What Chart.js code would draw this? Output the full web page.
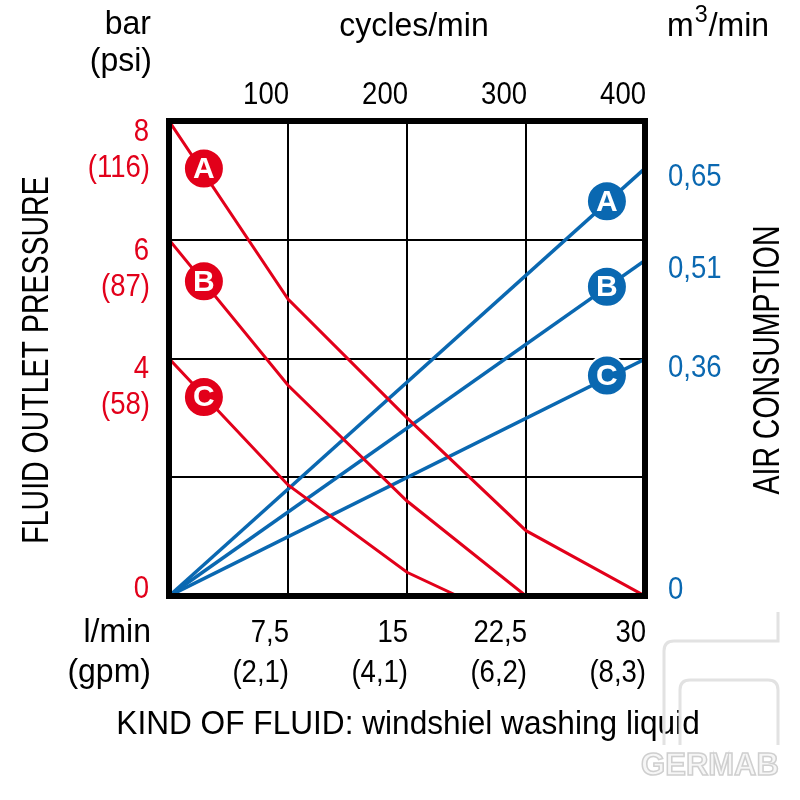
<!DOCTYPE html>
<html>
<head>
<meta charset="utf-8">
<script src="https://cdn.jsdelivr.net/npm/chart.js@4.4.1/dist/chart.umd.min.js"></script>
<style>
    html, body { margin: 0; padding: 0; background: #fff; }
</style>
</head>
<body>
<canvas id="canvas" width="800" height="800"></canvas>
<script>
var RED = '#e2001a';
var BLUE = '#0a68b1';
var FONT = '"Liberation Sans", Arial, sans-serif';

// bottom axis: fluid flow l/min (gpm), top axis: cycles/min
var flowTicks = [7.5, 15, 22.5, 30];
var flowLabels = ['7,5', '15', '22,5', '30'];
var gpmLabels = ['(2,1)', '(4,1)', '(6,2)', '(8,3)'];
var cycleTicks = [100, 200, 300, 400];

// left axis: fluid outlet pressure bar (psi)
var barTicks = [8, 6, 4, 0];
var psiLabels = ['(116)', '(87)', '(58)', ''];

// right axis: air consumption m3/min
var airTicks = [0.65, 0.51, 0.36, 0];
var airLabels = ['0,65', '0,51', '0,36', '0'];

var curves = ['A', 'B', 'C'];

// pressure curves, bar against l/min
var flowA = [0, 7.5, 15, 22.5, 30];
var presA = [8, 5.0, 3.0, 1.1, 0];
var flowB = [0, 7.5, 15, 22.5];
var presB = [6, 3.55, 1.6, 0];
var flowC = [0, 7.5, 15, 18.2];
var presC = [4, 1.87, 0.4, 0];

// air consumption, m3/min against l/min
var airFlow = [0, 30];
var airA = [0, 0.65];
var airB = [0, 0.51];
var airC = [0, 0.36];

// where the letter badges sit on the curves
var presBadgeX = 2.2;
var presBadgeY = [7.2, 5.3, 3.35];
var airBadgeX = 27.6;
var airBadgeY = [0.6, 0.47, 0.335];

function pts(xs, ys) {
    return xs.map(function(x, i) { return {x: x, y: ys[i]}; });
}

function curve(xs, ys, col, axis, w) {
    return {
        type: 'line',
        data: pts(xs, ys),
        borderColor: col,
        borderWidth: w,
        pointRadius: 0,
        tension: 0,
        yAxisID: axis
    };
}

function badges(x, ys, col, axis) {
    return {
        type: 'scatter',
        data: ys.map(function(y) { return {x: x, y: y}; }),
        pointRadius: 20,
        pointHoverRadius: 20,
        pointBackgroundColor: col,
        pointBorderColor: '#fff',
        pointBorderWidth: 2,
        yAxisID: axis,
        badge: true
    };
}

function say(ctx, text, x, y, size, align, color, sx, weight) {
    ctx.save();
    ctx.font = (weight || 'normal') + ' ' + size + 'px ' + FONT;
    ctx.fillStyle = color;
    ctx.textAlign = align;
    ctx.textBaseline = 'middle';
    ctx.translate(x, y);
    ctx.scale(sx || 1, 1);
    ctx.fillText(text, 0, 0);
    ctx.restore();
}

function sayUp(ctx, text, x, y, size, sx) {
    ctx.save();
    ctx.font = size + 'px ' + FONT;
    ctx.fillStyle = '#000';
    ctx.textAlign = 'center';
    ctx.textBaseline = 'middle';
    ctx.translate(x, y);
    ctx.rotate(-Math.PI / 2);
    ctx.scale(sx, 1);
    ctx.fillText(text, 0, 0);
    ctx.restore();
}

var frameAndText = {
    id: 'frameAndText',
    afterDatasetsDraw: function(chart) {
        var ctx = chart.ctx;
        var a = chart.chartArea;
        var sc = chart.scales;

        // thick frame over the line ends
        ctx.save();
        ctx.strokeStyle = '#000';
        ctx.lineWidth = 6;
        ctx.strokeRect(a.left, a.top, a.right - a.left, a.bottom - a.top);
        ctx.restore();

        // letters inside the badges
        chart.data.datasets.forEach(function(ds, i) {
            if (!ds.badge) return;
            chart.getDatasetMeta(i).data.forEach(function(p, j) {
                say(ctx, curves[j], p.x, p.y + 1, 30, 'center', '#fff', 1, 'bold');
            });
        });

        // left ticks
        barTicks.forEach(function(v, i) {
            var py = sc.y.getPixelForValue(v);
            var ly = v === 0 ? py - 7 : py + 11;
            say(ctx, String(v), 149, ly, 32, 'right', RED, 0.86);
            if (psiLabels[i]) say(ctx, psiLabels[i], 150, ly + 36, 32, 'right', RED, 0.86);
        });

        // right ticks
        airTicks.forEach(function(v, i) {
            var py = sc.y2.getPixelForValue(v);
            var ly = v === 0 ? py - 6 : py + 9;
            say(ctx, airLabels[i], 668, ly, 32, 'left', BLUE, 0.86);
        });

        // top ticks
        cycleTicks.forEach(function(v) {
            say(ctx, String(v), sc.x2.getPixelForValue(v) + 1, 95, 32, 'right', '#000', 0.86);
        });

        // bottom ticks
        flowTicks.forEach(function(v, i) {
            var px = sc.x.getPixelForValue(v) + 1;
            say(ctx, flowLabels[i], px, 633, 32, 'right', '#000', 0.86);
            say(ctx, gpmLabels[i], px, 673, 32, 'right', '#000', 0.86);
        });

        // units
        say(ctx, 'bar', 151, 25, 33, 'right', '#000', 0.97);
        say(ctx, '(psi)', 152, 62, 33, 'right', '#000', 0.97);
        say(ctx, 'cycles/min', 414, 27, 33, 'center', '#000', 0.97);
        say(ctx, 'l/min', 151, 633, 33, 'right', '#000', 0.97);
        say(ctx, '(gpm)', 151, 673, 33, 'right', '#000', 0.97);
        ctx.save();
        ctx.font = '33px ' + FONT;
        var mw = ctx.measureText('m').width * 0.97;
        ctx.restore();
        say(ctx, 'm', 667, 27, 33, 'left', '#000', 0.97);
        say(ctx, '3', 667 + mw + 1, 15, 24, 'left', '#000', 0.97);
        say(ctx, '/min', 667 + mw + 15, 27, 33, 'left', '#000', 0.97);

        // axis titles
        sayUp(ctx, 'FLUID OUTLET PRESSURE', 38, 360, 37, 0.77);
        sayUp(ctx, 'AIR CONSUMPTION', 769, 360, 37, 0.77);
        say(ctx, 'KIND OF FLUID: windshiel washing liquid', 408, 725, 34, 'center', '#000', 0.93);

        // faint watermark
        ctx.save();
        ctx.strokeStyle = '#e2e2e2';
        ctx.lineWidth = 3;
        ctx.beginPath();
        ctx.moveTo(778, 612);
        ctx.lineTo(778, 641);
        ctx.lineTo(674, 641);
        ctx.quadraticCurveTo(664, 641, 664, 651);
        ctx.lineTo(664, 745);
        ctx.moveTo(680, 745);
        ctx.lineTo(680, 690);
        ctx.quadraticCurveTo(680, 680, 690, 680);
        ctx.lineTo(768, 680);
        ctx.quadraticCurveTo(778, 680, 778, 690);
        ctx.lineTo(778, 745);
        ctx.stroke();
        ctx.font = 'bold 31px ' + FONT;
        ctx.textAlign = 'center';
        ctx.textBaseline = 'middle';
        ctx.fillStyle = '#f6f6f6';
        ctx.strokeStyle = '#cfcfcf';
        ctx.lineWidth = 1.5;
        ctx.fillText('GERMAB', 710, 766);
        ctx.strokeText('GERMAB', 710, 766);
        ctx.restore();
    }
};

window.onload = function() {
    var ctx = document.getElementById('canvas').getContext('2d');
    window.myChart = new Chart(ctx, {
        type: 'line',
        data: {
            datasets: [
                curve(flowA, presA, RED, 'y', 3),
                curve(flowB, presB, RED, 'y', 3),
                curve(flowC, presC, RED, 'y', 3),
                curve(airFlow, airA, BLUE, 'y2', 3.5),
                curve(airFlow, airB, BLUE, 'y2', 3.5),
                curve(airFlow, airC, BLUE, 'y2', 3.5),
                badges(presBadgeX, presBadgeY, RED, 'y'),
                badges(airBadgeX, airBadgeY, BLUE, 'y2')
            ]
        },
        options: {
            responsive: false,
            animation: false,
            layout: {
                padding: {left: 169, right: 155, top: 121, bottom: 204}
            },
            plugins: {
                legend: {display: false},
                tooltip: {enabled: false}
            },
            scales: {
                x: {
                    type: 'linear', min: 0, max: 30,
                    ticks: {display: false, stepSize: 7.5},
                    grid: {color: '#000', lineWidth: 2, drawTicks: false},
                    border: {display: false}
                },
                x2: {
                    type: 'linear', position: 'top', min: 0, max: 400,
                    ticks: {display: false},
                    grid: {display: false, drawTicks: false},
                    border: {display: false}
                },
                y: {
                    type: 'linear', min: 0, max: 8,
                    ticks: {display: false, stepSize: 2},
                    grid: {color: '#000', lineWidth: 2, drawTicks: false},
                    border: {display: false}
                },
                y2: {
                    type: 'linear', position: 'right', min: 0, max: 0.722,
                    ticks: {display: false},
                    grid: {display: false, drawTicks: false},
                    border: {display: false}
                }
            }
        },
        plugins: [frameAndText]
    });
};
</script>
</body>
</html>
